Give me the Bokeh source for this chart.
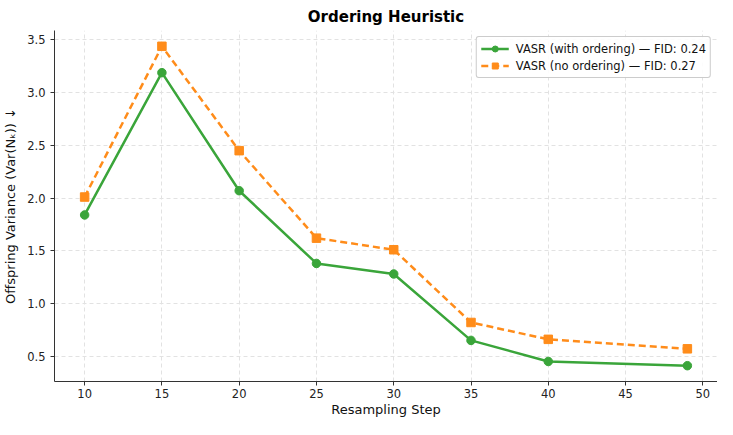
from bokeh.plotting import figure
from bokeh.models import Range1d, Legend, LegendItem, FixedTicker, CustomJSTickFormatter
from bokeh.embed import file_html
from bokeh.resources import INLINE

steps = [10, 15, 20, 25, 30, 35, 40, 49]
with_ordering = [1.84, 3.19, 2.07, 1.38, 1.28, 0.65, 0.45, 0.41]
no_ordering = [2.01, 3.44, 2.45, 1.62, 1.51, 0.82, 0.66, 0.57]
x_ticks = [10, 15, 20, 25, 30, 35, 40, 45, 50]
y_ticks = [0.5, 1.0, 1.5, 2.0, 2.5, 3.0, 3.5]
label_with = "VASR (with ordering) \u2014 FID: 0.24"
label_no = "VASR (no ordering) \u2014 FID: 0.27"

FONT = "DejaVu Sans"
GREEN = "#3aa53a"
ORANGE = "#ff8c1a"

p = figure(width=717, height=419, output_backend="svg", toolbar_location=None,
           x_range=Range1d(8.05, 50.95), y_range=Range1d(0.26, 3.59),
           title="Ordering Heuristic")
p.min_border_left = 10
p.min_border_right = 0
p.min_border_top = 4
p.min_border_bottom = 0

p.title.align = "center"
p.title.text_font = FONT
p.title.text_font_size = "15px"
p.title.text_font_style = "bold"
p.title.text_color = "#000000"

p.outline_line_color = None

for ax in (p.xaxis[0], p.yaxis[0]):
    ax.major_label_text_font = FONT
    ax.major_label_text_font_size = "11.5px"
    ax.major_label_text_color = "#222222"
    ax.axis_label_text_font = FONT
    ax.axis_label_text_font_size = "13px"
    ax.axis_label_text_font_style = "normal"
    ax.axis_label_text_color = "#111111"
    ax.minor_tick_line_color = None
    ax.major_tick_out = 4
    ax.major_tick_in = 0
    ax.axis_line_color = "#333333"
    ax.major_tick_line_color = "#333333"

p.xaxis.ticker = FixedTicker(ticks=x_ticks)
p.yaxis.ticker = FixedTicker(ticks=y_ticks)
p.yaxis.formatter = CustomJSTickFormatter(code="return tick.toFixed(1);")
p.xaxis.axis_label = "Resampling Step"
p.yaxis.axis_label = "Offspring Variance (Var(N\u2096)) \u2193"
p.xaxis.major_label_standoff = 3
p.xaxis.axis_label_standoff = 1
p.yaxis.axis_label_standoff = 6

p.xgrid.grid_line_color = "#e2e2e2"
p.ygrid.grid_line_color = "#e2e2e2"
p.xgrid.grid_line_dash = "4 3"
p.ygrid.grid_line_dash = "4 3"

l1 = p.line(steps, with_ordering, line_color=GREEN, line_width=2.5)
m1 = p.scatter(steps, with_ordering, marker="circle", size=8.5, fill_color=GREEN, line_color=GREEN)
l2 = p.line(steps, no_ordering, line_color=ORANGE, line_width=2.5, line_dash="7 4")
m2 = p.scatter(steps, no_ordering, marker="square", size=8.5, fill_color=ORANGE, line_color=ORANGE)

legend = Legend(items=[LegendItem(label=label_with, renderers=[l1, m1]),
                       LegendItem(label=label_no, renderers=[l2, m2])],
                location="top_right")
legend.label_text_font = FONT
legend.label_text_font_size = "11.5px"
legend.label_text_color = "#111111"
legend.border_line_color = "#999999"
legend.border_line_width = 1
legend.border_radius = 3
legend.background_fill_alpha = 0.9
legend.padding = 4
legend.spacing = 2
legend.margin = 6
legend.glyph_width = 28
legend.label_height = 15
legend.glyph_height = 15
legend.label_standoff = 7
p.add_layout(legend)

open("out.html", "w").write(file_html(p, INLINE))
